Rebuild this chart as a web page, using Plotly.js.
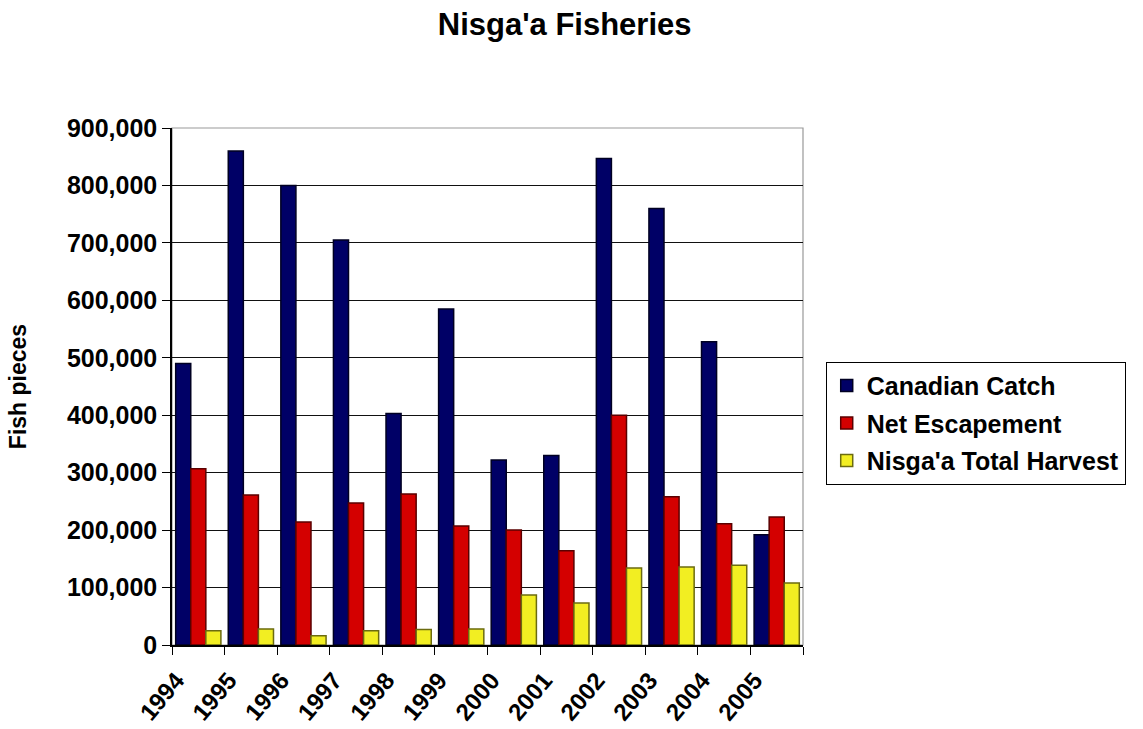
<!DOCTYPE html>
<html>
<head>
<meta charset="utf-8">
<script src="https://cdn.plot.ly/plotly-3.0.1.min.js"></script>
<style>html,body{margin:0;padding:0;background:#fff;}</style>
</head>
<body>
<div id="chart" style="width:1143px;height:729px;"></div>
<script>
const years = ["1994","1995","1996","1997","1998","1999","2000","2001","2002","2003","2004","2005"];
const canadianCatch = [490000, 860000, 800000, 705000, 403000, 585000, 322000, 330000, 847000, 760000, 528000, 192000];
const netEscapement = [307000, 261000, 214000, 247000, 263000, 207000, 200000, 164000, 400000, 258000, 211000, 223000];
const nisgaaHarvest = [25000, 28000, 16000, 25000, 27000, 28000, 87000, 73000, 134000, 136000, 139000, 108000];

const seriesNames = ["Canadian Catch", "Net Escapement", "Nisga'a Total Harvest"];
const seriesColors = ["#000066", "#d40000", "#f2ee22"];
const seriesLines = ["#000022", "#5a0000", "#6b6b10"];
const seriesData = [canadianCatch, netEscapement, nisgaaHarvest];

const FONT = "Liberation Sans, Arial, sans-serif";

const traces = seriesData.map((vals, i) => ({
  type: "bar",
  name: seriesNames[i],
  legendgroup: "g" + i,
  x: years,
  y: vals,
  marker: { color: seriesColors[i], line: { color: seriesLines[i], width: 1.5 } },
  hoverinfo: "x+y+name"
}));

const layout = {
  width: 1143, height: 729,
  paper_bgcolor: "#ffffff", plot_bgcolor: "#ffffff",
  margin: { l: 172, r: 340, t: 128, b: 84 },
  title: { text: "Nisga'a Fisheries", x: 0.494, xanchor: "center", y: 0.982, yanchor: "top",
           font: { family: FONT, size: 31, color: "#000", weight: "bold" } },
  barmode: "group",
  bargap: 0.14,
  bargroupgap: 0.0,
  showlegend: true,
  legend: {
    x: 1.036, xanchor: "left", y: 0.548, yanchor: "top",
    bordercolor: "#000", borderwidth: 1, bgcolor: "#fff",
    font: { family: FONT, size: 25, color: "#000", weight: "bold" },
    tracegroupgap: 2, itemwidth: 30
  },
  xaxis: {
    type: "category",
    tickangle: -50,
    tickfont: { family: FONT, size: 24, color: "#000", weight: "bold" },
    ticklabelstandoff: 10,
    ticklabelshift: -22,
    showline: true, linecolor: "#000", linewidth: 1.5,
    ticks: "outside", ticklen: 8, tickcolor: "#000", tickson: "boundaries",
    showgrid: false, mirror: false, automargin: false
  },
  yaxis: {
    title: { text: "Fish pieces", standoff: 34,
             font: { family: FONT, size: 23, color: "#000", weight: "bold" } },
    range: [0, 900000],
    dtick: 100000,
    tickformat: ",d",
    tickfont: { family: FONT, size: 25, color: "#000", weight: "bold" },
    showline: true, linecolor: "#000", linewidth: 1.5,
    ticks: "outside", ticklen: 8, tickcolor: "#000",
    showgrid: true, gridcolor: "#111", gridwidth: 1,
    zeroline: false, automargin: false
  },
  shapes: [
    { type: "rect", xref: "paper", yref: "paper", x0: 0, x1: 1, y0: 0, y1: 1,
      line: { color: "#999", width: 1.2 }, layer: "below" }
  ]
};

Plotly.newPlot("chart", traces, layout, { displayModeBar: false, responsive: false });
</script>
</body>
</html>
